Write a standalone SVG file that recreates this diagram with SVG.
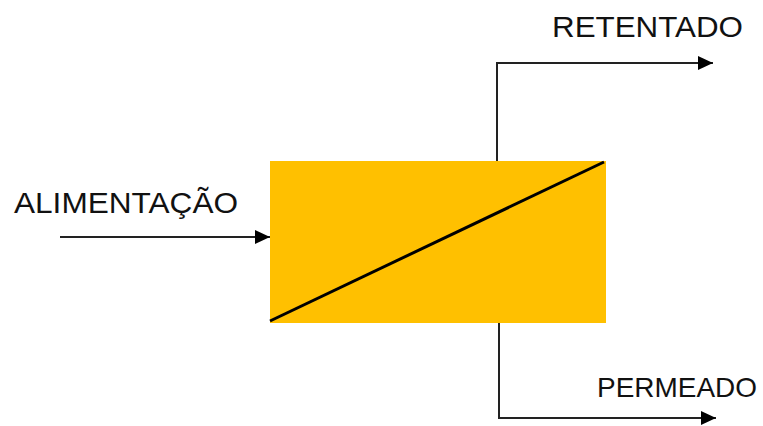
<svg xmlns="http://www.w3.org/2000/svg" width="763" height="426" viewBox="0 0 763 426">
<style>
.lbl{font-family:"Liberation Sans",Arial,sans-serif;fill:#111;}
.conn{fill:none;stroke:#222;stroke-width:2;}
</style>
<defs>
<marker id="ah" markerWidth="16" markerHeight="16" refX="15" refY="8" orient="auto" markerUnits="userSpaceOnUse">
<path d="M0,1 L15,8 L0,15 Z" fill="#000"/>
</marker>
</defs>
<rect width="763" height="426" fill="#fff"/>
<g id="membrane">
<rect x="270" y="161" width="336" height="162" fill="#FFC000"/>
<line x1="270" y1="321" x2="604" y2="162" stroke="#000" stroke-width="3"/>
</g>
<g id="connectors">
<path class="conn" d="M60,237 L270,237" marker-end="url(#ah)"/>
<path class="conn" d="M497,161 L497,63 L713,63" marker-end="url(#ah)"/>
<path class="conn" d="M499,323 L499,418 L716,418" marker-end="url(#ah)"/>
</g>
<g id="label-alimentacao"><text class="lbl" x="14" y="213" font-size="30" textLength="224" lengthAdjust="spacingAndGlyphs">ALIMENTAÇÃO</text></g>
<g id="label-retentado"><text class="lbl" x="552" y="37" font-size="30" textLength="191" lengthAdjust="spacingAndGlyphs">RETENTADO</text></g>
<g id="label-permeado"><text class="lbl" x="597" y="397" font-size="28" textLength="160" lengthAdjust="spacingAndGlyphs">PERMEADO</text></g>
</svg>
